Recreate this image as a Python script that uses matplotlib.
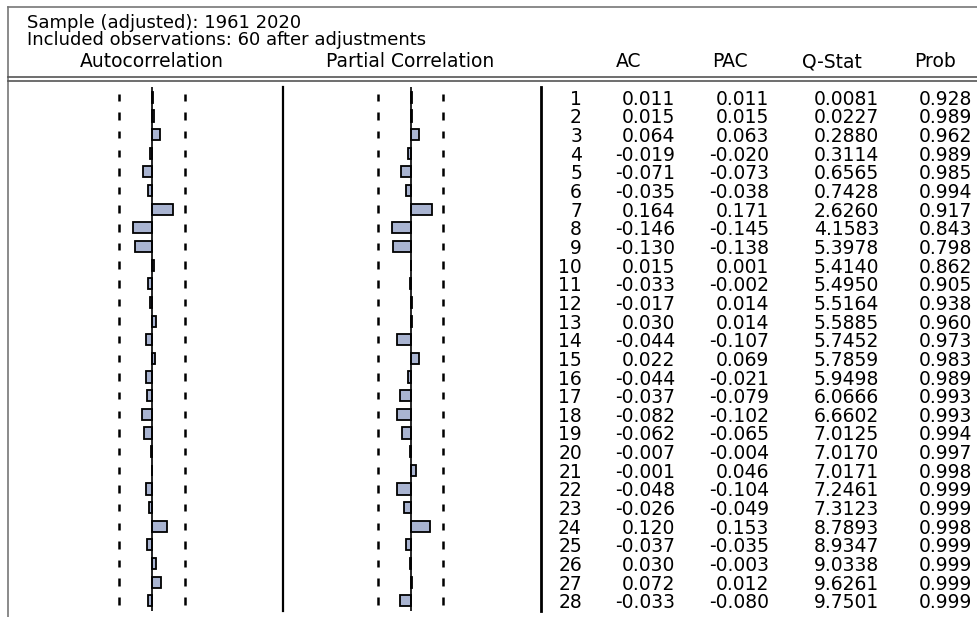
import numpy as np
import matplotlib
matplotlib.use("Agg")
import matplotlib.pyplot as plt

# correlogram values
lags = np.arange(1, 29)
ac = [0.011, 0.015, 0.064, -0.019, -0.071, -0.035, 0.164, -0.146, -0.130, 0.015,
      -0.033, -0.017, 0.030, -0.044, 0.022, -0.044, -0.037, -0.082, -0.062, -0.007,
      -0.001, -0.048, -0.026, 0.120, -0.037, 0.030, 0.072, -0.033]
pac = [0.011, 0.015, 0.063, -0.020, -0.073, -0.038, 0.171, -0.145, -0.138, 0.001,
       -0.002, 0.014, 0.014, -0.107, 0.069, -0.021, -0.079, -0.102, -0.065, -0.004,
       0.046, -0.104, -0.049, 0.153, -0.035, -0.003, 0.012, -0.080]
qstat = [0.0081, 0.0227, 0.2880, 0.3114, 0.6565, 0.7428, 2.6260, 4.1583, 5.3978, 5.4140,
         5.4950, 5.5164, 5.5885, 5.7452, 5.7859, 5.9498, 6.0666, 6.6602, 7.0125, 7.0170,
         7.0171, 7.2461, 7.3123, 8.7893, 8.9347, 9.0338, 9.6261, 9.7501]
prob = [0.928, 0.989, 0.962, 0.989, 0.985, 0.994, 0.917, 0.843, 0.798, 0.862,
        0.905, 0.938, 0.960, 0.973, 0.983, 0.989, 0.993, 0.993, 0.994, 0.997,
        0.998, 0.999, 0.999, 0.998, 0.999, 0.999, 0.999, 0.999]
nobs = 60
header1 = "Sample (adjusted): 1961 2020"
header2 = "Included observations: 60 after adjustments"
col_titles = ["AC", "PAC", "Q-Stat", "Prob"]

W, H = 978, 617
fig = plt.figure(figsize=(W / 100, H / 100), dpi=100)
fig.patch.set_facecolor("white")
FONT = "DejaVu Sans"
FS = 13.5

def px_axes(x0, x1, y0, y1):
    return fig.add_axes([x0 / W, 1 - y1 / H, (x1 - x0) / W, (y1 - y0) / H])

# overlay for frame, rules and headers (pixel coordinates)
frame = px_axes(0, W, 0, H)
frame.set_xlim(0, W)
frame.set_ylim(H, 0)
frame.axis("off")
frame.plot([8, 8], [7, H], color="#777777", lw=1.2)
frame.plot([8, W], [7, 7], color="#777777", lw=1.2)
frame.plot([8, W], [77, 77], color="#555555", lw=1.2)
frame.plot([8, W], [81, 81], color="#555555", lw=1.2)
frame.plot([283, 283], [87, 611], color="black", lw=1.6)
frame.plot([541, 541], [87, 611], color="black", lw=2.0)

frame.text(27, 22.5, header1, fontsize=13, family=FONT, va="center", ha="left")
frame.text(27, 40, header2, fontsize=13, family=FONT, va="center", ha="left")
frame.text(152, 67, "Autocorrelation", fontsize=FS, family=FONT, va="baseline", ha="center")
frame.text(410, 67, "Partial Correlation", fontsize=FS, family=FONT, va="baseline", ha="center")
for t, cx in zip(col_titles, [629, 730, 832, 935]):
    frame.text(cx, 67, t, fontsize=FS, family=FONT, va="baseline", ha="center")

# row geometry
row0, step = 97.3, 18.65
ytop, ybot = 87, 611
ylim = (1 + (ybot - row0) / step, 1 - (row0 - ytop) / step)
ppu = 127.8  # pixels per unit of correlation
bound = 2 / np.sqrt(nobs)

def corr_panel(x0, x1, zero, vals):
    ax = px_axes(x0, x1, ytop, ybot)
    ax.set_xlim((x0 - zero) / ppu, (x1 - zero) / ppu)
    ax.set_ylim(*ylim)
    ax.axis("off")
    ax.barh(lags, vals, height=0.6, color="#a9b4d1", edgecolor="black", linewidth=1.3, zorder=2)
    ax.axvline(0, color="black", lw=1.2, zorder=3)
    ax.vlines([-bound] * len(lags), lags - 0.2, lags + 0.2, color="black", lw=1.8)
    ax.vlines([bound] * len(lags), lags - 0.2, lags + 0.2, color="black", lw=1.8)
    return ax

corr_panel(9, 282, 152, ac)
corr_panel(284, 540, 410.5, pac)

# numeric table
tab = px_axes(541, W, ytop, ybot)
tab.set_xlim(541, W)
tab.set_ylim(*ylim)
tab.axis("off")
cols = [(582, lags, "{:d}"), (675, ac, "{:.3f}"), (769, pac, "{:.3f}"),
        (879, qstat, "{:.4f}"), (972, prob, "{:.3f}")]
for xr, vals, fmt in cols:
    for lag, v in zip(lags, vals):
        tab.text(xr, lag, fmt.format(v), fontsize=FS, family=FONT,
                 ha="right", va="center_baseline")

fig.savefig("out.png", dpi=100, facecolor="white")
